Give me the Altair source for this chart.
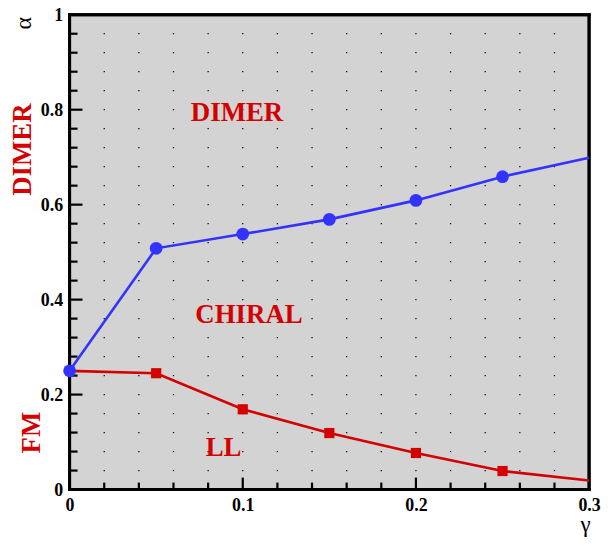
import altair as alt
import pandas as pd

# ---- data ----
gamma = [0.0, 0.05, 0.10, 0.15, 0.20, 0.25, 0.30]
alpha_chiral_dimer = [0.25, 0.508, 0.538, 0.569, 0.609, 0.659, 0.699]
alpha_ll_chiral = [0.25, 0.245, 0.169, 0.119, 0.077, 0.039, 0.019]
blue_marker_idx = [0, 1, 2, 3, 4, 5]
red_marker_idx = [1, 2, 3, 4, 5]

phase_names = ["DIMER", "CHIRAL", "LL"]
phase_x = [0.0967, 0.1036, 0.0889]
phase_y = [0.793, 0.368, 0.088]

side_names = ["DIMER", "FM"]
side_y = [0.716, 0.12]

x_ticks_major = [0.0, 0.1, 0.2, 0.3]
y_ticks_major = [0.0, 0.2, 0.4, 0.6, 0.8, 1.0]

W, H = 523, 478
RED = "#d40000"
BLUE = "#3333ff"
FONT = "Liberation Serif"

xgrid = [round(0.02 * i, 2) for i in range(1, 15)]
ygrid = [round(0.04 * i, 2) for i in range(1, 25)]

blue_df = pd.DataFrame({"g": gamma, "a": alpha_chiral_dimer})
red_df = pd.DataFrame({"g": gamma, "a": alpha_ll_chiral})
blue_pts = blue_df.iloc[blue_marker_idx]
red_pts = red_df.iloc[red_marker_idx]
dots_df = pd.DataFrame([(x, y) for x in xgrid for y in ygrid], columns=["g", "a"])

xscale = alt.Scale(domain=[0, 0.3], nice=False, zero=False)
yscale = alt.Scale(domain=[0, 1], nice=False, zero=False)
xaxis = alt.Axis(values=x_ticks_major, format=".1~f", title="γ", grid=False, ticks=False,
                 domain=False, labelFlush=False, labelPadding=7, labelFont=FONT,
                 labelFontWeight="bold", labelFontSize=18, labelColor="black",
                 titleFont=FONT, titleFontSize=23, titleFontWeight="normal",
                 titleX=519, titleY=42, titleAlign="center", titleBaseline="alphabetic",
                 titleColor="black")
yaxis = alt.Axis(values=y_ticks_major, format=".1~f", title="α", grid=False, ticks=False,
                 domain=False, labelFlush=False, labelPadding=7, labelOffset=1, labelFont=FONT,
                 labelFontWeight="bold", labelFontSize=18, labelColor="black",
                 titleFont=FONT, titleFontSize=24, titleFontWeight="normal",
                 titleX=-46, titleY=8, titleAngle=270, titleAlign="center",
                 titleBaseline="middle", titleColor="black")

X = alt.X("g:Q", scale=xscale, axis=xaxis)
Y = alt.Y("a:Q", scale=yscale, axis=yaxis)

dots = alt.Chart(dots_df).mark_square(size=1.5, color="black", opacity=1).encode(x=X, y=Y)

yt_df = pd.DataFrame({"a": ygrid})
yt_df["major"] = [abs(v / 0.2 - round(v / 0.2)) < 1e-6 for v in ygrid]
xt_df = pd.DataFrame({"g": xgrid})
xt_df["major"] = [abs(v / 0.1 - round(v / 0.1)) < 1e-6 for v in xgrid]

ytick_major = alt.Chart(yt_df[yt_df.major]).mark_rule(stroke="black", strokeWidth=2.2).encode(
    y=Y, x=alt.value(0), x2=alt.value(13))
ytick_minor = alt.Chart(yt_df[~yt_df.major]).mark_rule(stroke="black", strokeWidth=2.2).encode(
    y=Y, x=alt.value(0), x2=alt.value(8))
xtick_major = alt.Chart(xt_df[xt_df.major]).mark_rule(stroke="black", strokeWidth=2.2).encode(
    x=X, y=alt.value(H), y2=alt.value(H - 12))
xtick_minor = alt.Chart(xt_df[~xt_df.major]).mark_rule(stroke="black", strokeWidth=2.2).encode(
    x=X, y=alt.value(H), y2=alt.value(H - 7))

# plot frame drawn as four rules along the scale domain edges
edge_x = pd.DataFrame({"g": [0.0, 0.3]})
edge_y = pd.DataFrame({"a": [0.0, 1.0]})
frame_v = alt.Chart(edge_x).mark_rule(stroke="black", strokeWidth=3).encode(
    x=X, y=alt.value(-1.5), y2=alt.value(H + 1.5))
frame_h = alt.Chart(edge_y).mark_rule(stroke="black", strokeWidth=3).encode(
    y=Y, x=alt.value(-1.5), x2=alt.value(W + 1.5))

red_line = alt.Chart(red_df).mark_line(color=RED, strokeWidth=2.6).encode(x=X, y=Y)
blue_line = alt.Chart(blue_df).mark_line(color=BLUE, strokeWidth=2.6).encode(x=X, y=Y)
red_sq = alt.Chart(red_pts).mark_square(color=RED, size=105, opacity=1).encode(x=X, y=Y)
blue_c = alt.Chart(blue_pts).mark_circle(color=BLUE, size=165, opacity=1).encode(x=X, y=Y)

phase_df = pd.DataFrame({"g": phase_x, "a": phase_y, "t": phase_names})
phase_txt = alt.Chart(phase_df).mark_text(font=FONT, fontWeight="bold", fontSize=27,
                                          color=RED, align="center", baseline="middle").encode(
    x=X, y=Y, text="t:N")

side_df = pd.DataFrame({"a": side_y, "t": side_names, "px": [-47, -38]})
side_txt = alt.Chart(side_df).mark_text(font=FONT, fontWeight="bold", fontSize=27,
                                        color=RED, align="center", baseline="middle",
                                        angle=270).encode(
    x=alt.X("px:Q", scale=None), y=Y, text="t:N")

chart = alt.layer(dots, ytick_minor, ytick_major, xtick_minor, xtick_major, frame_v, frame_h,
                  red_line, blue_line, red_sq, blue_c, phase_txt, side_txt).properties(
    width=W, height=H,
    background="white",
    autosize=alt.AutoSizeParams(type="none"),
    padding={"left": 62, "top": 5, "right": 16, "bottom": 47},
).configure_view(fill="#d3d3d3", stroke="black", strokeWidth=3)

chart.save("out.html", embed_options={"renderer": "svg", "actions": False})
